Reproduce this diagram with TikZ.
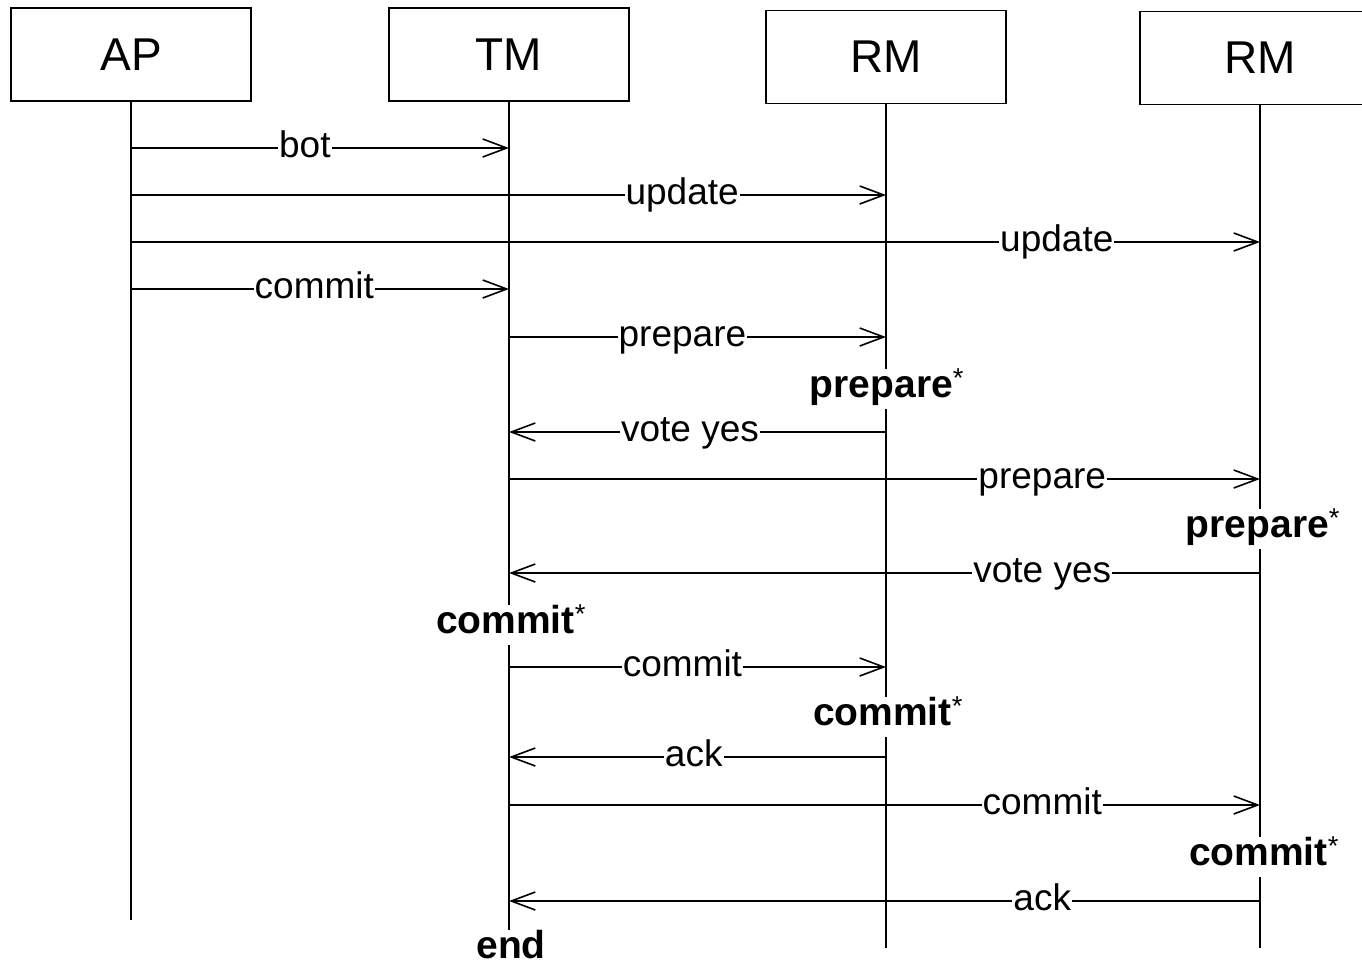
\documentclass[tikz,border=0pt]{standalone}
\usepackage{fontspec}
\setmainfont{Liberation Sans}
\usetikzlibrary{arrows.meta}

\begin{document}
\begin{tikzpicture}[x=1pt,y=-1pt,>={Straight Barb[length=24pt,width=18pt]},
    boite/.style={draw,line width=1.6pt,minimum width=240pt,minimum height=93pt,inner sep=0pt,font=\fontsize{46}{50}\selectfont},
    vie/.style={line width=1.4pt},
    msg/.style={line width=1.6pt},
    lbl/.style={fill=white,inner sep=1pt,text height=26pt,text depth=8pt,font=\fontsize{37}{40}\selectfont},
    etat/.style={inner sep=2pt,text height=26pt,text depth=10pt,font=\bfseries\fontsize{39}{42}\selectfont}]

    \useasboundingbox (0,0) rectangle (1362,964);
    \clip (0,0) rectangle (1362,964);

    % Les boites des participants
    \node[boite] (ap) at (131,54.5) {AP};
    \node[boite] (tm) at (509,54.5) {TM};
    \node[boite] (rm1) at (886,57) {RM};
    \node[boite] (rm2) at (1260,58) {RM};

    % Les etats
    \node[etat] (rm1p) at (887,389) {prepare\textsuperscript{\mdseries *}};
    \node[etat] (rm2p) at (1263,529) {prepare\textsuperscript{\mdseries *}};
    \node[etat] (tmc) at (511,625) {commit\textsuperscript{\mdseries *}};
    \node[etat] (rm1c) at (888,717) {commit\textsuperscript{\mdseries *}};
    \node[etat] (rm2c) at (1264,857) {commit\textsuperscript{\mdseries *}};
    \node[etat] (tmfin) at (511,950) {end};

    % Les lignes de vie
    \coordinate (apbas) at (0,920);
    \coordinate (bas) at (0,948);
    \draw[vie] (ap.south) -- (ap.south|-apbas);
    \draw[vie] (tm.south) -- (tm.south|-tmc.north);
    \draw[vie] (tm.south|-tmc.south) -- (tm.south|-tmfin.north);
    \draw[vie] (rm1.south) -- (rm1.south|-rm1p.north);
    \draw[vie] (rm1.south|-rm1p.south) -- (rm1.south|-rm1c.north);
    \draw[vie] (rm1.south|-rm1c.south) -- (rm1.south|-bas);
    \draw[vie] (rm2.south) -- (rm2.south|-rm2p.north);
    \draw[vie] (rm2.south|-rm2p.south) -- (rm2.south|-rm2c.north);
    \draw[vie] (rm2.south|-rm2c.south) -- (rm2.south|-bas);

    % Les hauteurs des messages
    \coordinate (m1) at (0,148);
    \coordinate (m2) at (0,195);
    \coordinate (m3) at (0,242);
    \coordinate (m4) at (0,289);
    \coordinate (m5) at (0,337);
    \coordinate (m6) at (0,432);
    \coordinate (m7) at (0,479);
    \coordinate (m8) at (0,573);
    \coordinate (m9) at (0,667);
    \coordinate (m10) at (0,757);
    \coordinate (m11) at (0,805);
    \coordinate (m12) at (0,901);

    % Les messages
    \draw[->,msg] (ap.south|-m1) -- (tm.south|-m1) node[lbl,pos=0.46] {bot};
    \draw[->,msg] (ap.south|-m2) -- (rm1.south|-m2) node[lbl,pos=0.73] {update};
    \draw[->,msg] (ap.south|-m3) -- (rm2.south|-m3) node[lbl,pos=0.82] {update};
    \draw[->,msg] (ap.south|-m4) -- (tm.south|-m4) node[lbl,pos=0.485] {commit};
    \draw[->,msg] (tm.south|-m5) -- (rm1.south|-m5) node[lbl,pos=0.46] {prepare};
    \draw[->,msg] (rm1.south|-m6) -- (tm.south|-m6) node[lbl,pos=0.52] {vote yes};
    \draw[->,msg] (tm.south|-m7) -- (rm2.south|-m7) node[lbl,pos=0.71] {prepare};
    \draw[->,msg] (rm2.south|-m8) -- (tm.south|-m8) node[lbl,pos=0.29] {vote yes};
    \draw[->,msg] (tm.south|-m9) -- (rm1.south|-m9) node[lbl,pos=0.46] {commit};
    \draw[->,msg] (rm1.south|-m10) -- (tm.south|-m10) node[lbl,pos=0.51] {ack};
    \draw[->,msg] (tm.south|-m11) -- (rm2.south|-m11) node[lbl,pos=0.71] {commit};
    \draw[->,msg] (rm2.south|-m12) -- (tm.south|-m12) node[lbl,pos=0.29] {ack};
\end{tikzpicture}
\end{document}
